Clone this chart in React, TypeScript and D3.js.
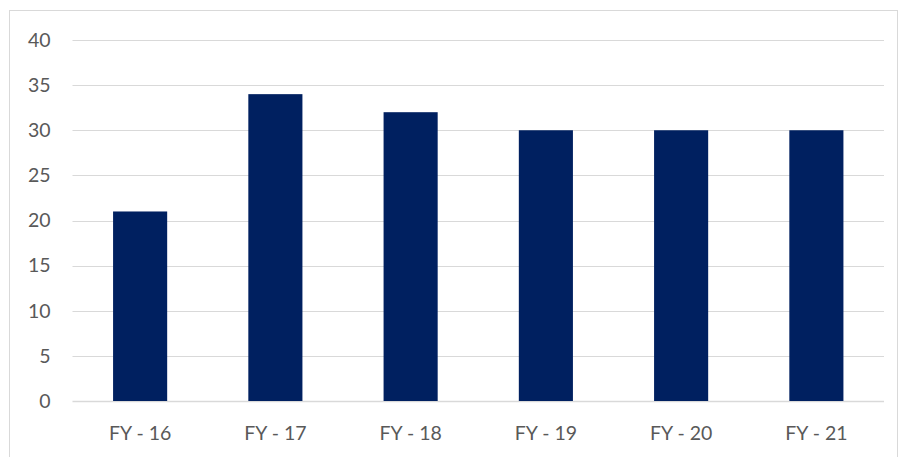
import React from 'react';
import * as d3 from 'd3';

// chart data
const categories = ['FY - 16', 'FY - 17', 'FY - 18', 'FY - 19', 'FY - 20', 'FY - 21'];
const values = [21, 34, 32, 30, 30, 30];
const yTicks = [0, 5, 10, 15, 20, 25, 30, 35, 40];

const App = () => {
  const width = 900;
  const height = 457;
  const margin = { top: 40, bottom: 56, left: 72.5, right: 16 };
  const chartWidth = width - margin.left - margin.right;
  const chartHeight = height - margin.top - margin.bottom;

  const xScale = d3.scaleBand()
    .domain(categories)
    .range([0, chartWidth])
    .paddingInner(0.6)
    .paddingOuter(0.3);

  const yScale = d3.scaleLinear()
    .domain([0, 40])
    .range([chartHeight, 0]);

  const font = 'Lato, "Open Sans", sans-serif';

  return (
    <svg
      width={width}
      height={height}
      style={{ position: 'absolute', left: 0, top: 0, display: 'block' }}
    >
      <rect x={0} y={0} width={width} height={height} fill='white'/>
      <rect x={9.5} y={10.5} width={888} height={460} fill='none' stroke='#d9d9d9' strokeWidth={1}/>
      <g transform={`translate(${margin.left}, ${margin.top})`}>
        {yTicks.map(t => (
          <g key={t}>
            <line x1={0} x2={chartWidth} y1={Math.round(yScale(t)) + 0.5} y2={Math.round(yScale(t)) + 0.5}
              stroke='#d9d9d9' strokeWidth={t === 0 ? 1.5 : 1}/>
            <text x={-22} y={yScale(t)} dy='0.35em' textAnchor='end'
              fontFamily={font} fontSize={19.5} fill='#595959'>{t}</text>
          </g>
        ))}
        {categories.map((c, i) => (
          <rect key={c} x={xScale(c)} y={yScale(values[i])}
            width={xScale.bandwidth()} height={chartHeight - yScale(values[i])} fill='#002060'/>
        ))}
        {categories.map(c => (
          <text key={c} x={(xScale(c) || 0) + xScale.bandwidth() / 2} y={chartHeight + 32}
            dy='0.35em' textAnchor='middle' fontFamily={font} fontSize={19.5} fill='#595959'>{c}</text>
        ))}
      </g>
    </svg>
  );
};

export default App;
